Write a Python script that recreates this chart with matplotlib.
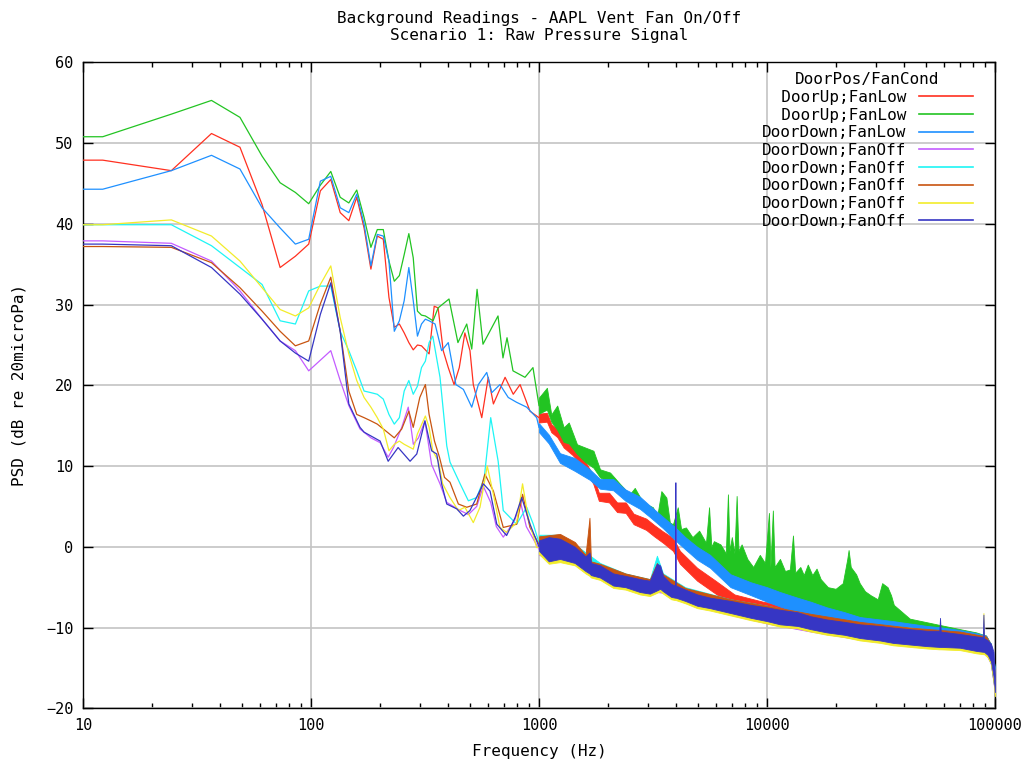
import matplotlib
matplotlib.use("Agg")
import matplotlib.pyplot as plt
from matplotlib.ticker import LogLocator, NullFormatter

plt.rcParams['font.family'] = ['DejaVu Sans Mono']

# --- DATA ---
labels = ['  DoorUp;FanLow', '  DoorUp;FanLow', 'DoorDown;FanLow',
          'DoorDown;FanOff', 'DoorDown;FanOff', 'DoorDown;FanOff',
          'DoorDown;FanOff', 'DoorDown;FanOff']
colors = ['#ff3020', '#22c422', '#1e90ff', '#c45cff',
          '#1ef5f5', '#c85410', '#f2ec2a', '#3636c4']

# low frequency bins (Hz)
lf = [10, 12.2, 24.4, 36.6, 48.8, 61.0, 73.2, 85.4, 97.7, 109.9,
      122.1, 134.3, 146.5, 158.7, 170.9, 183.1, 195.3, 207.5, 219.7, 231.9,
      244.1, 256.3, 268.6, 280.8, 293.0, 305.2, 317.4, 329.6]

# ---- DoorUp;FanLow (red)
red_f = lf + [347, 361, 380, 400, 424, 447, 473, 498, 515, 561, 599, 631, 710, 771, 826, 913, 1000]
red_db = [47.9, 47.9, 46.6, 51.2, 49.5, 42.4, 34.6, 36.0, 37.5, 44.1,
          45.5, 41.4, 40.4, 43.3, 39.5, 34.4, 38.5, 38.1, 30.9, 27.2,
          27.6, 26.5, 25.3, 24.4, 25.0, 24.9, 24.4, 23.9,
          29.8, 29.6, 24.3, 22.2, 20.1, 22.2, 26.5, 24.3, 20.1, 16.0,
          21.0, 17.7, 21.0, 18.9, 20.1, 16.8, 16.0]
red_band_f = [1000, 1083, 1132, 1202, 1283, 1400, 1580, 1730, 1830, 2030, 2200, 2400, 2600, 2950, 3200, 3500,
              3870, 4150, 4940, 5950, 7200, 9600, 13600, 18300, 25580, 35700, 50300, 70230, 91300, 95700, 100000]
red_band_lo = [15.4, 15.5, 14.2, 13.6, 12.3, 11.4, 9.8, 7.8, 5.7, 5.5, 4.3, 4.2, 2.8, 2.1, 1.3, 0.5,
               -0.5, -2.1, -4.2, -5.8, -7.5, -8.4, -9.7, -10.4, -11.2, -11.8, -12.2, -12.5, -13.1, -14.3, -18.0]
red_band_hi = [16.5, 16.6, 15.2, 14.6, 13.3, 12.4, 10.8, 8.8, 6.7, 6.7, 5.5, 5.5, 4.1, 3.5, 2.7, 1.9,
               1.1, -0.5, -2.6, -4.2, -5.9, -6.8, -7.6, -8.5, -9.3, -9.8, -10.2, -10.6, -11.0, -12.0, -15.5]

# ---- DoorUp;FanLow (green)
green_f = lf[:27] + [343, 361, 403, 441, 482, 507, 535, 568, 661, 695, 724, 769, 868, 941, 1000]
green_db = [50.8, 50.8, 53.6, 55.3, 53.2, 48.4, 45.1, 43.9, 42.5, 44.8,
            46.5, 43.3, 42.6, 44.2, 40.8, 37.1, 39.3, 39.3, 35.4, 32.9,
            33.6, 36.2, 38.8, 35.8, 29.2, 28.7, 28.6,
            28.0, 29.6, 30.7, 25.3, 27.6, 24.5, 31.9, 25.1, 28.6, 23.4,
            25.9, 21.8, 21.0, 22.2, 17.5]
green_band_f = [1000, 1083, 1132, 1202, 1283, 1351, 1468, 1595, 1733, 1852,
                2050, 2265, 2500, 2630, 2860, 3160, 3300, 3440, 3620, 3750,
                3870, 4060, 4200, 4410, 4710, 5040, 5400, 5570, 5700, 5850,
                6250, 6600, 6740, 6850, 7010, 7200, 7360, 7500, 7740, 8200,
                8700, 9300, 9800, 10200, 10350, 10610, 10800, 11400, 12000, 12600,
                13000, 13300, 14000, 14500, 15100, 15800, 16500, 17200, 18500, 20000,
                21500, 22500, 22800, 23300, 24600, 25500, 26900, 28500, 30600, 32000,
                33800, 35000, 36000, 42300, 55500, 70230, 82700, 91300, 95700, 100000]
green_band_hi = [18.5, 19.7, 16.4, 17.5, 14.8, 15.4, 12.7, 12.3, 11.9, 9.6,
                 9.2, 7.8, 6.5, 7.3, 5.5, 4.9, 3.8, 6.9, 6.1, 3.0,
                 2.8, 4.9, 2.2, 2.4, 1.2, 2.0, 0.5, 4.9, 0.0, 0.7,
                 0.3, -0.8, 6.5, -0.5, 1.2, -0.8, 6.3, -0.5, 0.3, -1.5,
                 -2.5, -1.0, -2.0, 4.2, -2.5, 4.5, -2.5, -1.5, -3.0, -2.8,
                 1.4, -3.2, -2.5, -3.5, -2.2, -3.5, -2.7, -4.0, -5.0, -5.2,
                 -4.5, -1.5, -0.4, -2.5, -3.4, -4.5, -5.5, -6.0, -6.5, -4.5,
                 -5.0, -6.0, -7.2, -8.9, -9.6, -10.2, -10.6, -11.0, -12.0, -15.0]
green_band_lo = [16.5, 17.0, 15.5, 14.5, 13.0, 12.8, 11.5, 10.5, 9.8, 8.6,
                 8.0, 7.0, 6.0, 5.5, 4.8, 4.0, 3.6, 3.2, 2.8, 2.4,
                 2.0, 1.8, 1.4, 1.0, 0.3, -0.2, -1.0, -1.3, -1.5, -1.8,
                 -2.5, -3.0, -3.3, -3.4, -3.5, -3.6, -3.7, -3.8, -4.0, -4.3,
                 -4.6, -4.9, -5.0, -5.2, -5.3, -5.4, -5.5, -5.7, -5.9, -6.1,
                 -6.2, -6.3, -6.5, -6.7, -6.8, -7.0, -7.2, -7.4, -7.7, -8.0,
                 -8.2, -8.3, -8.3, -8.4, -8.6, -8.7, -8.8, -9.0, -9.1, -9.2,
                 -9.3, -9.4, -9.4, -9.7, -10.1, -10.5, -10.9, -11.3, -13.0, -17.0]

# ---- DoorDown;FanLow (blue)
blue_f = lf + [350, 374, 400, 432, 466, 507, 542, 590, 621, 674, 733, 798, 883, 977, 1000]
blue_db = [44.3, 44.3, 46.6, 48.5, 46.8, 42.0, 39.5, 37.5, 38.1, 45.3,
           45.9, 42.0, 41.4, 43.7, 40.0, 34.8, 38.7, 38.5, 35.4, 26.7,
           28.0, 30.5, 34.6, 30.5, 26.1, 27.6, 28.2, 28.0,
           27.6, 24.3, 25.3, 20.1, 19.5, 17.3, 20.1, 21.6, 19.1, 20.1,
           18.5, 17.9, 17.3, 16.0, 14.8]
blue_band_f = [1000, 1104, 1236, 1436, 1670, 1852, 2118, 2395, 2773, 3064, 3500, 3961, 4380, 4943, 5630,
               6920, 8510, 10000, 11410, 13600, 15550, 18300, 21900, 25580, 31310, 35700, 42300, 50300,
               58900, 70230, 83000, 91300, 95700, 100000]
blue_band_hi = [15.3, 13.9, 11.6, 11.0, 9.6, 8.4, 8.4, 7.1, 6.2, 5.1, 3.7, 2.4, 1.2, 0.0, -1.0,
                -3.4, -4.4, -5.0, -5.6, -6.3, -6.8, -7.5, -8.1, -8.7, -9.0, -9.2, -9.5, -9.8,
                -10.0, -10.3, -10.7, -11.0, -12.0, -15.0]
blue_band_lo = [14.2, 12.8, 10.4, 9.4, 8.3, 7.2, 7.0, 5.7, 4.7, 3.7, 2.3, 0.8, -0.3, -1.6, -2.6,
                -5.0, -6.0, -6.8, -7.4, -8.1, -8.6, -9.0, -9.6, -10.1, -10.5, -10.7, -11.0, -11.3,
                -11.5, -11.7, -12.0, -12.5, -14.0, -17.5]

# ---- DoorDown;FanOff (violet)
violet_f = [10, 12.2, 24.4, 36.6, 48.8, 61.0, 73.2, 85.4, 97.7, 122.1, 134.3, 146.5, 164, 183.1, 201,
            218, 230, 250, 267, 281, 296, 316, 338, 368, 394, 451, 490, 533, 570, 614, 650, 697,
            780, 830, 880, 1000]
violet_db = [37.9, 37.9, 37.6, 35.4, 31.7, 28.2, 25.5, 24.3, 21.8, 24.3, 20.6, 17.5, 14.6, 13.5, 12.9,
             11.1, 12.3, 14.8, 17.3, 12.7, 13.5, 15.6, 10.2, 7.8, 5.5, 4.5, 4.0, 5.0, 7.5, 5.5, 2.5, 1.2,
             3.2, 5.5, 2.5, -0.3]
violet_band_f = [1000, 1236, 1436, 1852, 2395, 3064, 3290, 3500, 3950, 3965, 3980, 4380, 6920, 10000,
                 15550, 25580, 42300, 70230, 91300, 96000, 100000]
violet_band_lo = [-1.0, -1.8, -2.2, -4.0, -5.2, -6.0, -5.6, -5.7, -6.4, -6.4, -6.4, -6.9, -8.4, -9.5,
                  -10.5, -11.5, -12.3, -12.7, -13.3, -14.5, -18.2]
violet_band_hi = [0.9, 1.4, 0.2, -2.2, -3.5, -4.1, -2.3, -3.5, -4.8, 4.0, -4.8, -5.3, -6.8, -7.6,
                  -8.6, -9.6, -10.2, -10.9, -11.4, -12.2, -16.2]

# ---- DoorDown;FanOff (cyan)
cyan_f = lf + [342, 368, 394, 407, 451, 490, 533, 575, 614, 662, 697, 798, 883, 944, 1000]
cyan_db = [39.9, 39.9, 39.9, 37.3, 34.6, 32.5, 28.0, 27.6, 31.7, 32.3,
           32.3, 26.7, 24.3, 21.8, 19.3, 19.1, 18.9, 18.3, 16.4, 15.2,
           16.0, 19.3, 20.6, 18.9, 19.9, 22.2, 23.0, 25.3,
           26.1, 21.0, 12.5, 10.5, 7.8, 5.7, 6.1, 8.5, 16.0, 10.6,
           4.5, 2.8, 4.9, 2.8, 0.5]
cyan_band_f = [1000, 1236, 1436, 1852, 2395, 3064, 3290, 3500, 4380, 6920, 10000, 15550, 25580, 42300,
               70230, 91300, 96000, 100000]
cyan_band_lo = [-0.7, -1.2, -2.0, -3.6, -4.8, -5.6, -5.0, -5.3, -6.5, -8.0, -9.2, -10.2, -11.2, -12.0,
                -12.4, -13.0, -14.5, -18.0]
cyan_band_hi = [1.5, 1.5, 0.3, -2.0, -3.3, -4.0, -1.1, -3.3, -5.0, -6.5, -7.3, -8.4, -9.4, -10.0,
                -10.6, -11.2, -12.0, -16.0]

# ---- DoorDown;FanOff (orange)
orange_f = [10, 12.2, 24.4, 36.6, 48.8, 61.0, 73.2, 85.4, 97.7, 109.9, 122.1, 134.3, 146.5, 158.7,
            170.9, 183.1, 195.3, 207.5, 231.9, 250, 268.6, 280.8, 300, 317.4, 329.6, 348, 366, 385,
            407, 443, 482, 533, 579, 631, 697, 798, 847, 913, 1000]
orange_db = [37.2, 37.2, 37.1, 35.2, 32.1, 29.2, 26.7, 24.9, 25.5, 30.1, 33.4, 26.7, 19.3, 16.4,
             16.0, 15.6, 15.2, 14.6, 13.5, 14.6, 16.8, 14.8, 18.5, 20.1, 16.4, 13.1, 11.1, 8.6,
             8.0, 5.3, 4.9, 5.3, 9.0, 6.9, 2.4, 2.8, 6.5, 2.4, 0.3]
orange_band_f = [1000, 1236, 1436, 1600, 1665, 1690, 1852, 2395, 3064, 3290, 3500, 4380, 6920, 10000,
                 15550, 25580, 42300, 70230, 91300, 96000, 100000]
orange_band_lo = [-0.6, -1.3, -1.9, -3.0, -3.2, -3.4, -3.7, -4.9, -5.7, -5.3, -5.4, -6.6, -8.1, -9.2,
                  -10.3, -11.2, -12.0, -12.4, -13.1, -14.3, -17.8]
orange_band_hi = [1.3, 1.6, 0.6, -1.0, 3.6, -1.8, -2.1, -3.3, -4.0, -2.0, -3.4, -5.1, -6.5, -7.3,
                  -8.3, -9.3, -10.0, -10.5, -11.1, -12.1, -15.8]

# ---- DoorDown;FanOff (yellow) and (navy) share one high-frequency grid
yellow_f = [10, 12.2, 24.4, 36.6, 48.8, 61.0, 73.2, 85.4, 97.7, 109.9, 122.1, 134.3, 146.5, 158.7,
            170.9, 183.1, 195.3, 207.5, 219.7, 231.9, 244.1, 256.3, 280.8, 293.0, 317.4, 329.6,
            342, 362, 378, 407, 443, 473, 515, 551, 593, 631, 674, 721, 798, 847, 897, 977, 1000]
yellow_db = [39.9, 39.9, 40.5, 38.5, 35.4, 32.1, 29.4, 28.6, 29.6, 32.5, 34.8, 28.4, 23.9, 20.6,
             18.5, 17.3, 16.0, 14.6, 11.9, 12.7, 13.1, 12.7, 12.1, 14.0, 16.2, 14.8,
             11.9, 10.6, 7.8, 6.1, 4.5, 4.9, 3.0, 4.9, 10.0, 6.5, 2.4, 1.8, 3.0, 7.8, 3.6, -0.1, 0.0]

navy_f = [10, 12.2, 24.4, 36.6, 48.8, 61.0, 73.2, 85.4, 97.7, 109.9, 122.1, 134.3, 146.5, 164, 171,
          201, 218, 241, 272, 291, 316, 338, 356, 374, 394, 436, 466, 498, 570, 610, 653, 721, 785,
          840, 913, 1000]
navy_db = [37.5, 37.5, 37.3, 34.6, 31.3, 28.2, 25.5, 24.0, 23.0, 28.8, 32.7, 26.7, 17.7, 14.8, 14.2,
           13.1, 10.6, 12.3, 10.6, 11.5, 15.6, 11.9, 11.5, 7.8, 5.3, 4.7, 3.8, 4.5, 7.8, 6.9, 2.8, 1.4, 3.6,
           6.1, 2.8, 0.0]

band_f = [1000, 1104, 1236, 1436, 1600, 1665, 1690, 1852, 2118, 2395, 2773, 3064, 3290, 3400, 3500,
          3800, 3950, 3965, 3980, 4380, 4943, 5630, 6920, 8510, 10000, 11410, 13600, 15550, 18300,
          21900, 25580, 31310, 35700, 42300, 50300, 57000, 57400, 57800, 70230, 83000, 88500, 89000,
          89500, 93000, 96000, 98500, 100000]
yellow_band_hi = [0.3, 0.8, 0.5, -0.5, -1.8, -1.6, -2.5, -2.8, -3.8, -4.0, -4.5, -4.6, -2.8, -2.9, -4.0,
                  -5.0, -5.2, -5.2, -5.2, -5.7, -6.3, -6.7, -7.1, -7.6, -7.9, -8.2, -8.5, -9.0, -9.4,
                  -9.7, -10.0, -10.2, -10.4, -10.6, -10.8, -10.8, -10.8, -10.9, -11.2, -11.5, -11.6, -8.2,
                  -11.7, -12.0, -12.4, -13.5, -16.5]
yellow_band_lo = [-0.9, -2.1, -1.9, -2.3, -3.3, -3.6, -3.8, -4.1, -5.1, -5.3, -5.9, -6.1, -5.7, -5.5, -5.8,
                  -6.5, -6.6, -6.6, -6.6, -7.0, -7.6, -7.9, -8.5, -9.1, -9.5, -9.9, -10.1, -10.5, -10.9,
                  -11.2, -11.6, -11.9, -12.2, -12.4, -12.6, -12.7, -12.7, -12.7, -12.8, -13.2, -13.3, -13.3,
                  -13.3, -13.7, -14.5, -16.5, -18.5]
navy_band_hi = [0.8, 1.2, 1.0, 0.0, -1.2, -0.7, -2.0, -2.3, -3.3, -3.6, -4.0, -4.2, -2.1, -2.3, -3.6,
                -4.6, -4.8, 8.0, -4.8, -5.3, -5.9, -6.3, -6.7, -7.2, -7.5, -7.8, -8.1, -8.6, -9.0,
                -9.3, -9.6, -9.8, -10.0, -10.2, -10.4, -10.4, -8.8, -10.5, -10.8, -11.1, -11.2, -8.4,
                -11.3, -11.6, -12.0, -13.0, -16.0]
navy_band_lo = [-0.5, -1.8, -1.5, -2.0, -3.0, -3.3, -3.5, -3.8, -4.8, -5.0, -5.6, -5.8, -5.4, -5.2, -5.5,
                -6.2, -6.3, -6.3, -6.3, -6.7, -7.3, -7.6, -8.2, -8.8, -9.2, -9.6, -9.8, -10.2, -10.6,
                -10.9, -11.3, -11.6, -11.9, -12.1, -12.3, -12.4, -12.4, -12.4, -12.5, -12.9, -13.0, -13.0,
                -13.0, -13.4, -14.2, -16.0, -18.0]

series = [
    (red_f, red_db, red_band_f, red_band_lo, red_band_hi),
    (green_f, green_db, green_band_f, green_band_lo, green_band_hi),
    (blue_f, blue_db, blue_band_f, blue_band_lo, blue_band_hi),
    (violet_f, violet_db, violet_band_f, violet_band_lo, violet_band_hi),
    (cyan_f, cyan_db, cyan_band_f, cyan_band_lo, cyan_band_hi),
    (orange_f, orange_db, orange_band_f, orange_band_lo, orange_band_hi),
    (yellow_f, yellow_db, band_f, yellow_band_lo, yellow_band_hi),
    (navy_f, navy_db, band_f, navy_band_lo, navy_band_hi),
]

# --- PLOT ---
fig = plt.figure(figsize=(10.30, 7.61), dpi=100)
ax = fig.add_axes([0.0806, 0.0693, 0.8854, 0.8486])

# drawn in file order, like gnuplot: later curves sit on top
for i, (f, db, bf, blo, bhi) in enumerate(series):
    z = 3 + i
    ax.plot(f, db, color=colors[i], lw=0.9, label=labels[i], zorder=z)
    ax.fill_between(bf, blo, bhi, facecolor=colors[i], edgecolor=colors[i], lw=0.6, zorder=z)

ax.set_xscale('log')
ax.set_xlim(10, 100000)
ax.set_ylim(-20, 60)
ax.set_xticks([10, 100, 1000, 10000, 100000])
ax.set_xticklabels(['10', '100', '1000', '10000', '100000'])
ax.xaxis.set_minor_locator(LogLocator(base=10, subs=range(2, 10)))
ax.xaxis.set_minor_formatter(NullFormatter())
ax.set_yticks(range(-20, 61, 10))

ax.tick_params(which='both', direction='in', top=True, right=True, labelsize=11, width=1)
ax.tick_params(which='major', length=7, pad=7)
ax.tick_params(which='minor', length=3.5)
for sp in ax.spines.values():
    sp.set_linewidth(1.0)

ax.grid(True, which='major', color='#c4c4c4', lw=1.2)
ax.set_axisbelow(True)

ax.set_title('Background Readings - AAPL Vent Fan On/Off\nScenario 1: Raw Pressure Signal',
             fontsize=11.5, pad=16, linespacing=1.15)
ax.set_xlabel('Frequency (Hz)', fontsize=11.5, labelpad=8)
ax.set_ylabel('PSD (dB re 20microPa)', fontsize=11.5, labelpad=14)

leg = ax.legend(loc='upper right', bbox_to_anchor=(0.976, 0.985), frameon=False, markerfirst=False,
                title='DoorPos/FanCond', fontsize=11.5, title_fontsize=11.5,
                handlelength=3.4, handletextpad=0.8, labelspacing=0.17, borderpad=0, borderaxespad=0)
for line in leg.get_lines():
    line.set_linewidth(1.2)

fig.savefig('out.png', dpi=100)
